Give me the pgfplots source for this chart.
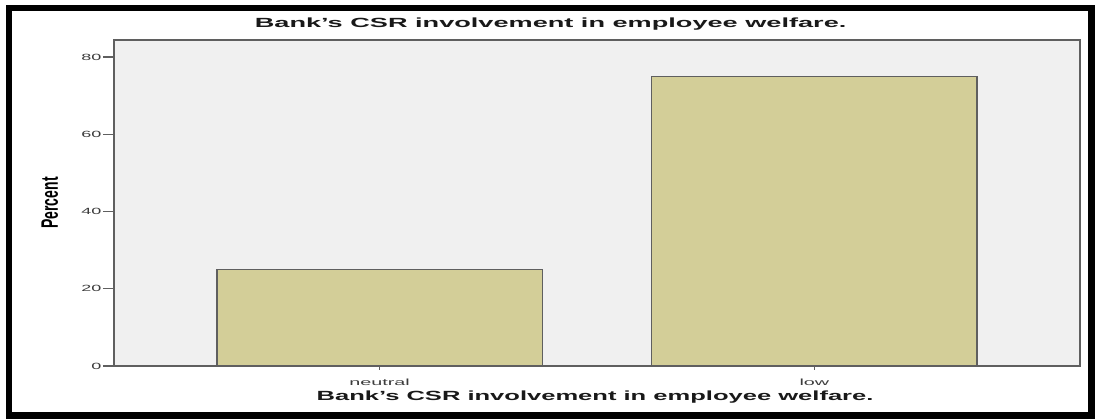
\documentclass[border=0pt]{standalone}
\usepackage{pgfplots}
\pgfplotsset{compat=1.18}
\usepackage{fontspec}
\setmainfont{Liberation Sans}
\definecolor{barfill}{RGB}{211,206,152}
\definecolor{plotbg}{RGB}{240,240,240}
\definecolor{axisgray}{RGB}{95,95,95}
\definecolor{ticktext}{RGB}{60,60,60}
\newcommand{\sx}[2]{\scalebox{#1}[1]{#2}}
\begin{document}
\begin{tikzpicture}[x=1pt,y=1pt]
\path (0,0) rectangle (1095,419);
\draw[line width=6.5pt] (9,3.5) rectangle (1091.5,411);
\begin{axis}[
  at={(114pt,53pt)}, anchor=south west,
  scale only axis, width=966pt, height=326pt,
  xmin=-0.611, xmax=1.611, ymin=0, ymax=84.4,
  axis background/.style={fill=plotbg},
  axis line style={axisgray, line width=1.4pt},
  ybar, bar width=0.748,
  xtick={0,1}, xticklabels={neutral,low},
  ytick={0,20,40,60,80},
  xtick pos=bottom, ytick pos=left,
  tick align=outside,
  major tick length=11pt,
  tick style={axisgray, line width=1.4pt},
  x tick style={/pgfplots/major tick length=4pt},
  yticklabel={\sx{2}{\pgfmathprintnumber{\tick}}},
  yticklabel style={font=\fontsize{9}{10}\selectfont, text=ticktext, inner sep=1.5pt},
  xticklabel style={font=\fontsize{9}{10}\selectfont, text=ticktext, inner sep=1pt},
  xticklabel={\sx{2.2}{\strut\pgfmathparse{int(\tick)}\ifnum\pgfmathresult=0 neutral\else low\fi}},
  /pgf/number format/assume math mode=true,
  title={\sx{2.04}{Bank's CSR involvement in employee welfare.}},
  title style={at={(0.452,1)}, anchor=base, yshift=6pt, font=\fontsize{13.3}{15}\selectfont\bfseries, text=black!90},
  xlabel={\sx{1.92}{Bank's CSR involvement in employee welfare.}},
  xlabel style={at={(0.498,0)}, anchor=base, yshift=-34.7pt, font=\fontsize{13.3}{15}\selectfont\bfseries, text=black!90},
  ylabel={\scalebox{1}[1.7]{Percent}},
  ylabel style={at={(-0.058,0.5)}, anchor=base, font=\fontsize{14}{15}\selectfont\bfseries, text=black},
]
\addplot[fill=barfill, draw=axisgray, line width=1.1pt] coordinates {(0,25) (1,75)};
\end{axis}
\end{tikzpicture}
\end{document}
